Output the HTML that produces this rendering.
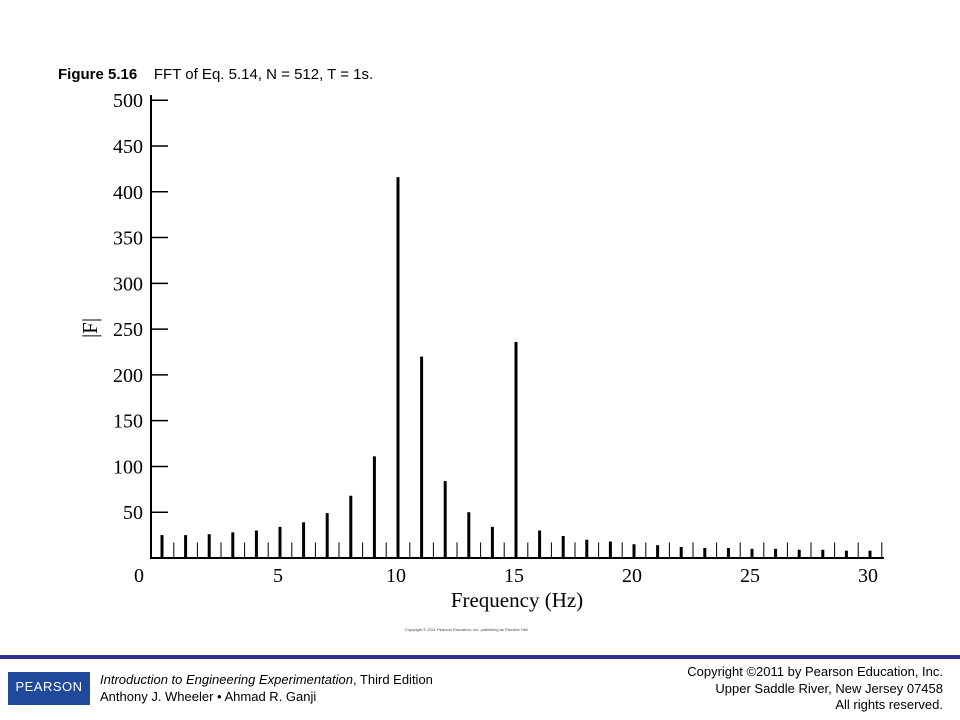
<!DOCTYPE html>
<html><head><meta charset="utf-8"><style>
body{margin:0;width:960px;height:720px;background:#fff;position:relative;overflow:hidden;font-family:"Liberation Sans",sans-serif}
.t{position:absolute;white-space:nowrap}
</style></head><body>
<div class="t" style="left:58px;top:66px;font-size:15px;color:#000"><b>Figure 5.16</b>&nbsp;&nbsp;&nbsp;&nbsp;FFT of Eq. 5.14, N = 512, T = 1s.</div>
<svg id="chart" width="960" height="640" style="position:absolute;left:0;top:0" font-family="Liberation Serif, serif"></svg>
<div class="t" style="left:405px;top:627px;font-size:4px;color:#444">Copyright © 2011 Pearson Education, Inc. publishing as Prentice Hall</div>
<div style="position:absolute;left:0;top:655px;width:960px;height:4px;background:#2e3192"></div>
<div style="position:absolute;left:8px;top:672px;width:82px;height:33px;background:#1f4a9c;color:#fff;font-size:13px;text-align:center;line-height:30px;letter-spacing:0.5px">PEARSON</div>
<div class="t" style="left:100px;top:672px;font-size:13px"><i>Introduction to Engineering Experimentation</i>, Third Edition</div>
<div class="t" style="left:100px;top:689px;font-size:13px">Anthony J. Wheeler • Ahmad R. Ganji</div>
<div class="t" style="right:17px;top:664px;font-size:13px;text-align:right;line-height:16.5px">Copyright ©2011 by Pearson Education, Inc.<br>Upper Saddle River, New Jersey 07458<br>All rights reserved.</div>
<script>
const freqs=[0,1,2,3,4,5,6,7,8,9,10,11,12,13,14,15,16,17,18,19,20,21,22,23,24,25,26,27,28,29,30];
const mags=[25,25,26,28,30,34,39,49,68,111,416,220,84,50,34,236,30,24,20,18,15,14,12,11,11,10,10,9,9,8,8];
const minorFreqs=[0.5,1.5,2.5,3.5,4.5,5.5,6.5,7.5,8.5,9.5,10.5,11.5,12.5,13.5,14.5,15.5,16.5,17.5,18.5,19.5,20.5,21.5,22.5,23.5,24.5,25.5,26.5,27.5,28.5,29.5,30.5];
const minorMag=17;
const xTicks=[0,5,10,15,20,25,30];
const yTicks=[50,100,150,200,250,300,350,400,450,500];
const svg=document.getElementById('chart');
const NS='http://www.w3.org/2000/svg';
const x=f=>162+23.6*f;
const y=v=>558-0.9156*v;
function mk(tag,attrs){const e=document.createElementNS(NS,tag);for(const k in attrs)e.setAttribute(k,attrs[k]);svg.appendChild(e);return e;}
let e;
e=mk('line',{x1:151,y1:558,x2:884,y2:558,stroke:'#000','stroke-width':2});


e=mk('line',{x1:151,y1:95,x2:151,y2:559,stroke:'#000','stroke-width':2});


yTicks.forEach(v=>{
 e=mk('line',{x1:151,y1:y(v),x2:168,y2:y(v),stroke:'#000','stroke-width':1.5});
 
 
 e=mk('text',{x:143,y:y(v)+7,'text-anchor':'end','font-size':20});
 e.textContent=v;
 
 
});
xTicks.forEach(v=>{
 e=mk('text',{x:v===0?139:x(v)-2,y:582,'text-anchor':'middle','font-size':20});
 e.textContent=v;
 
 
});
minorFreqs.forEach(f=>{
 e=mk('line',{x1:x(f),y1:y(0),x2:x(f),y2:y(minorMag),stroke:'#000','stroke-width':1});
 
 
});
freqs.forEach((f,i)=>{
 e=mk('rect',{x:x(f)-1.5,y:y(mags[i]),width:3,height:y(0)-y(mags[i]),fill:'#000'});
 
 
});
e=mk('text',{x:517,y:607,'text-anchor':'middle','font-size':21});
e.textContent='Frequency (Hz)';


e=mk('text',{x:97,y:328,'text-anchor':'middle','font-size':21,transform:'rotate(-90 97 328)'});
e.textContent='|F|';


</script>
</body></html>
